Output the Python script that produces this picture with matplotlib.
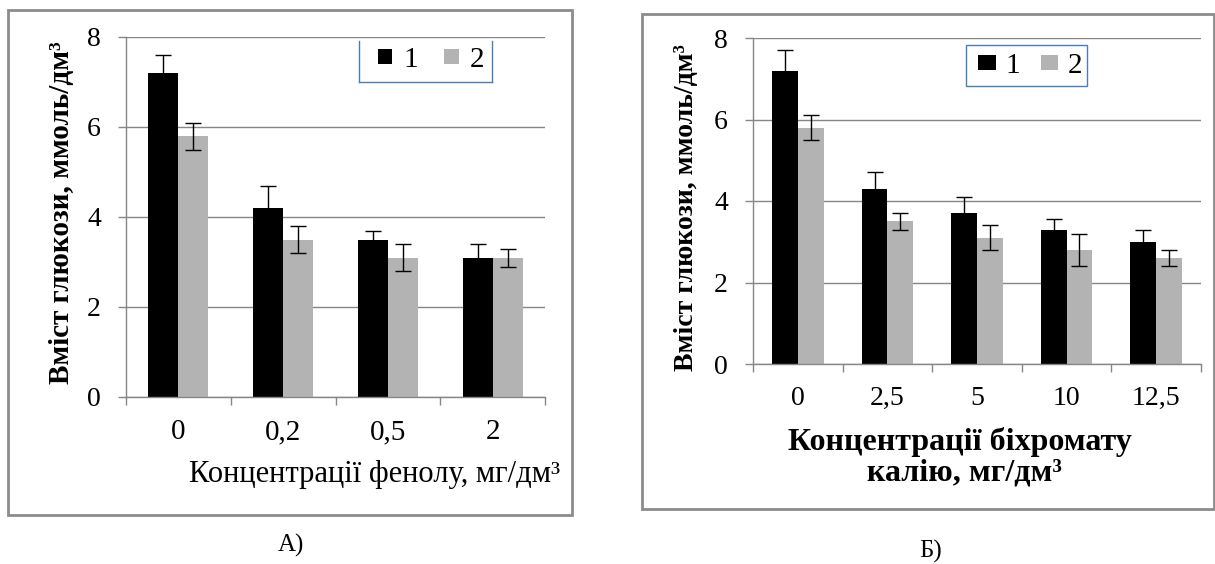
import matplotlib
matplotlib.use("Agg")
import matplotlib.pyplot as plt
import numpy as np
from matplotlib.patches import Rectangle
from matplotlib.lines import Line2D

plt.rcParams['font.family'] = 'serif'
plt.rcParams['font.serif'] = ['Liberation Serif', 'DejaVu Serif']

W, H = 1215, 564

# Дані: панель А (фенол)
cats_a = ["0", "0,2", "0,5", "2"]
s1_a = [7.2, 4.2, 3.5, 3.1]
e1_a = [0.4, 0.5, 0.2, 0.3]
s2_a = [5.8, 3.5, 3.1, 3.1]
e2_a = [0.3, 0.3, 0.3, 0.2]

# Дані: панель Б (біхромат калію)
cats_b = ["0", "2,5", "5", "10", "12,5"]
s1_b = [7.2, 4.3, 3.7, 3.3, 3.0]
e1_b = [0.5, 0.4, 0.4, 0.25, 0.3]
s2_b = [5.8, 3.5, 3.1, 2.8, 2.6]
e2_b = [0.3, 0.2, 0.3, 0.4, 0.2]

series_names = ["1", "2"]
yticks = [0, 2, 4, 6, 8]

GRID = '#868686'
FRAME = '#8c8c8c'
C1 = 'black'
C2 = '#b3b3b3'
BLUE = '#4a7ebb'


def px(x, y):
    return x / W, 1 - y / H


def box(x0, y0, x1, y1):
    return [x0 / W, 1 - y1 / H, (x1 - x0) / W, (y1 - y0) / H]


def panel(ax, cats, v1, e1, v2, e2, ticksize):
    n = len(cats)
    x = np.arange(n)
    w = 0.287
    ax.bar(x - w / 2, v1, w, color=C1, label=series_names[0], zorder=2)
    ax.bar(x + w / 2, v2, w, color=C2, label=series_names[1], zorder=2)
    ax.errorbar(x - w / 2, v1, yerr=e1, fmt='none', ecolor='black',
                elinewidth=1, capsize=5.5, capthick=1, zorder=3)
    ax.errorbar(x + w / 2, v2, yerr=e2, fmt='none', ecolor='black',
                elinewidth=1, capsize=5.5, capthick=1, zorder=3)
    ax.set_xlim(-0.5, n - 0.5)
    ax.set_ylim(0, 8)
    ax.set_yticks(yticks)
    ax.set_xticks(x)
    ax.set_xticklabels(cats)
    ax.set_xticks(np.arange(n + 1) - 0.5, minor=True)
    ax.tick_params(axis='x', which='major', length=0, labelsize=ticksize, pad=16)
    ax.tick_params(axis='x', which='minor', length=6, color=GRID, width=1)
    ax.tick_params(axis='y', length=6, color=GRID, width=1, labelsize=20, pad=12)
    ax.yaxis.grid(True, color=GRID, linewidth=1, zorder=0)
    ax.set_axisbelow(True)
    for s in ['top', 'right']:
        ax.spines[s].set_visible(False)
    for s in ['left', 'bottom']:
        ax.spines[s].set_color(GRID)
        ax.spines[s].set_linewidth(1)


fig = plt.figure(figsize=(W / 100, H / 100), dpi=100)

# рамки панелей
fig.patches.append(Rectangle(px(8, 515), 564 / W, 505 / H, transform=fig.transFigure,
                             fill=False, edgecolor=FRAME, linewidth=2))
fig.patches.append(Rectangle(px(642, 509), 572 / W, 495 / H, transform=fig.transFigure,
                             fill=False, edgecolor=FRAME, linewidth=2))

ax1 = fig.add_axes(box(126, 37, 545, 397))
panel(ax1, cats_a, s1_a, e1_a, s2_a, e2_a, 21)
ax2 = fig.add_axes(box(753, 38, 1201, 364))
panel(ax2, cats_b, s1_b, e1_b, s2_b, e2_b, 20)

# легенди
leg1 = ax1.legend(loc='center', bbox_to_anchor=px(431, 60), bbox_transform=fig.transFigure,
                  ncol=2, fontsize=21, frameon=False, borderpad=0, borderaxespad=0,
                  handlelength=0.5, handleheight=0.45, handletextpad=0.38,
                  columnspacing=0.9)
leg2 = ax2.legend(loc='center', bbox_to_anchor=px(1030, 66), bbox_transform=fig.transFigure,
                  ncol=2, fontsize=21, frameon=False, borderpad=0, borderaxespad=0,
                  handlelength=0.6, handleheight=0.42, handletextpad=0.32,
                  columnspacing=0.72)
# рамка легенди А без верхньої лінії
for (xa, ya), (xb, yb) in [((359, 41), (359, 82)), ((359, 82), (492, 82)), ((492, 82), (492, 41))]:
    fig.lines.append(Line2D([xa / W, xb / W], [1 - ya / H, 1 - yb / H],
                            transform=fig.transFigure, color=BLUE, linewidth=1))
fig.patches.append(Rectangle(px(966, 86), 121 / W, 41 / H, transform=fig.transFigure,
                             fill=False, edgecolor=BLUE, linewidth=1))

fig.text(*px(62, 213), "Вміст глюкози, ммоль/дм³", rotation=90, fontsize=21,
         fontweight='bold', ha='center', va='center')
fig.text(*px(686, 208), "Вміст глюкози, ммоль/дм³", rotation=90, fontsize=20,
         fontweight='bold', ha='center', va='center')
fig.text(*px(375, 482), "Концентрації фенолу, мг/дм³", fontsize=22,
         ha='center', va='baseline')
fig.text(*px(960, 450), "Концентрації біхромату", fontsize=23,
         fontweight='bold', ha='center', va='baseline')
fig.text(*px(964, 480), "калію, мг/дм³", fontsize=23,
         fontweight='bold', ha='center', va='baseline')

fig.text(*px(291, 545), "А)", fontsize=18, ha='center', va='center')
fig.text(*px(931, 551), "Б)", fontsize=18, ha='center', va='center')

fig.savefig("out.png", dpi=100)
